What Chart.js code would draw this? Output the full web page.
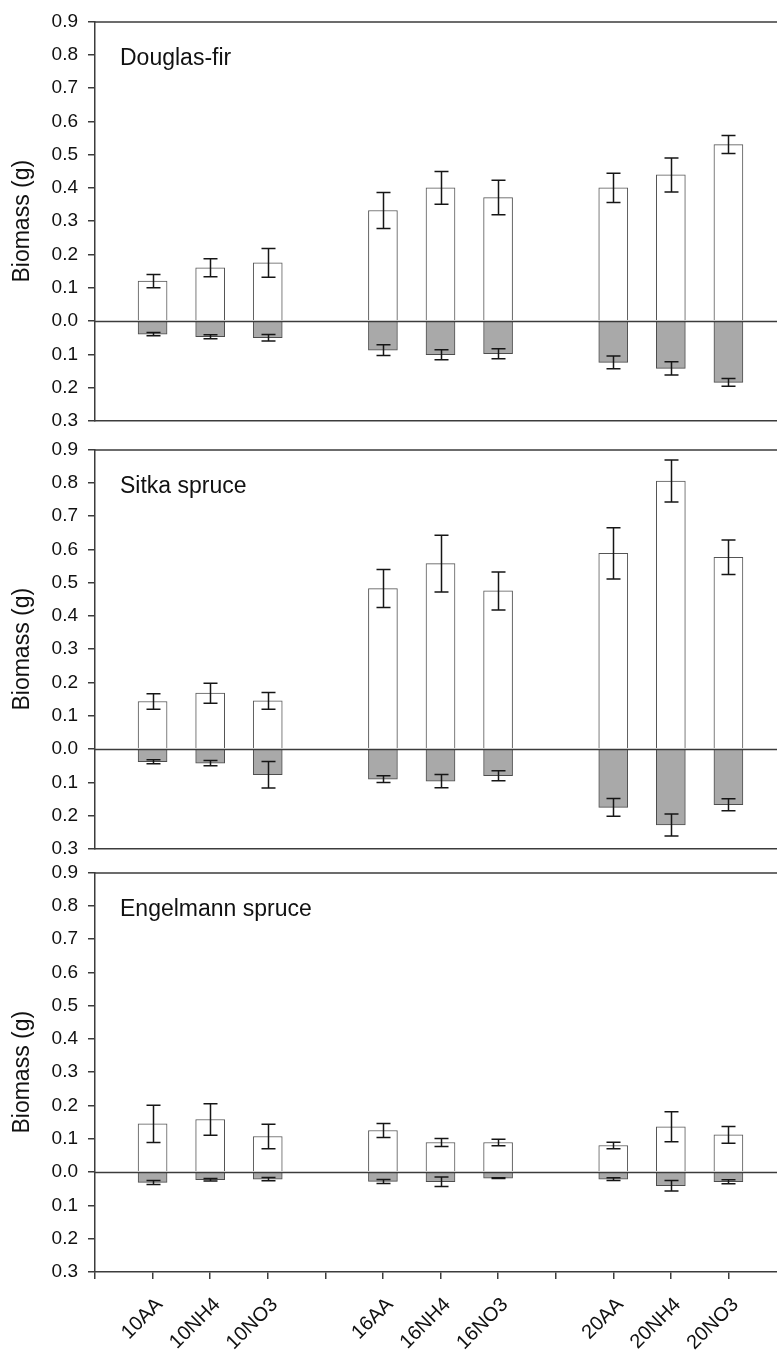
<!DOCTYPE html>
<html>
<head>
<meta charset="utf-8">
<title>Biomass by species and treatment</title>
<script src="https://cdn.jsdelivr.net/npm/chart.js@4.4.0/dist/chart.umd.min.js"></script>
<style>
    html, body { margin: 0; padding: 0; background: #fff; overflow: hidden; }
    #wrap { position: relative; width: 777px; height: 1351px; overflow: hidden; }
    #wrap canvas { position: absolute; left: 0; }
</style>
</head>
<body>
<div id="wrap">
    <canvas id="df" width="800" height="445" style="top:0px"></canvas>
    <canvas id="ss" width="800" height="445" style="top:428px"></canvas>
    <canvas id="es" width="800" height="500" style="top:851px"></canvas>
</div>
<script>
// treatments, three groups of three with an empty slot between groups
var categories = ['10AA', '10NH4', '10NO3', '16AA', '16NH4', '16NO3', '20AA', '20NH4', '20NO3'];
var xLabels = ['', '10AA', '10NH4', '10NO3', '', '16AA', '16NH4', '16NO3', '', '20AA', '20NH4', '20NO3', ''];
var yTicks = [-0.3, -0.2, -0.1, 0, 0.1, 0.2, 0.3, 0.4, 0.5, 0.6, 0.7, 0.8, 0.9];

// Douglas-fir (g): shoot above zero, root below zero
var dfShoot    = [0.120, 0.160, 0.175, 0.332, 0.400, 0.371, 0.400, 0.439, 0.530];
var dfShootErr = [0.020, 0.027, 0.043, 0.054, 0.049, 0.052, 0.044, 0.051, 0.027];
var dfRoot     = [0.039, 0.047, 0.050, 0.087, 0.101, 0.098, 0.124, 0.142, 0.184];
var dfRootErr  = [0.005, 0.006, 0.010, 0.016, 0.015, 0.015, 0.019, 0.020, 0.012];

// Sitka spruce
var ssShoot    = [0.143, 0.168, 0.145, 0.482, 0.557, 0.475, 0.588, 0.805, 0.576];
var ssShootErr = [0.023, 0.030, 0.025, 0.057, 0.085, 0.057, 0.077, 0.063, 0.052];
var ssRoot     = [0.038, 0.042, 0.077, 0.090, 0.096, 0.080, 0.175, 0.228, 0.167];
var ssRootErr  = [0.006, 0.008, 0.040, 0.010, 0.020, 0.015, 0.027, 0.033, 0.018];

// Engelmann spruce
var esShoot    = [0.145, 0.158, 0.107, 0.125, 0.089, 0.089, 0.080, 0.136, 0.112];
var esShootErr = [0.056, 0.047, 0.037, 0.021, 0.012, 0.010, 0.010, 0.045, 0.025];
var esRoot     = [0.031, 0.023, 0.021, 0.028, 0.029, 0.018, 0.021, 0.041, 0.029];
var esRootErr  = [0.006, 0.004, 0.005, 0.006, 0.014, 0.001, 0.004, 0.016, 0.006];

var FONT = "'Liberation Sans', Arial, sans-serif";
var AXIS = '#3c3c3c';

function slotOf(i) {
    // 3 bars per group, one spare slot between groups
    return Math.floor(i / 3) * 4 + (i % 3) + 1;
}

function points(values, sign) {
    return values.map(function (v, i) {
        return { x: slotOf(i), y: sign * v };
    });
}

// zero line, error bars, frame and species name
var panelExtras = {
    id: 'panelExtras',
    afterDatasetsDraw: function (chart) {
        var ctx = chart.ctx, area = chart.chartArea, ys = chart.scales.y;
        ctx.save();

        var y0 = Math.round(ys.getPixelForValue(0)) + 0.5;
        ctx.strokeStyle = AXIS;
        ctx.lineWidth = 1.5;
        ctx.beginPath();
        ctx.moveTo(area.left, y0);
        ctx.lineTo(area.right, y0);
        ctx.stroke();

        ctx.strokeStyle = '#161616';
        ctx.lineWidth = 1.5;
        chart.data.datasets.forEach(function (ds, i) {
            var meta = chart.getDatasetMeta(i);
            meta.data.forEach(function (bar, j) {
                var v = ds.data[j].y, e = ds.errors[j];
                var hi = ys.getPixelForValue(v + e), lo = ys.getPixelForValue(v - e);
                var x = Math.round(bar.x) + 0.5;
                ctx.beginPath();
                ctx.moveTo(x, hi); ctx.lineTo(x, lo);
                ctx.moveTo(x - 7, hi); ctx.lineTo(x + 7, hi);
                ctx.moveTo(x - 7, lo); ctx.lineTo(x + 7, lo);
                ctx.stroke();
            });
        });
        ctx.restore();
    },
    afterDraw: function (chart, args, opts) {
        var ctx = chart.ctx, area = chart.chartArea;
        ctx.save();
        ctx.strokeStyle = AXIS;
        ctx.lineWidth = 1.5;
        ctx.beginPath();
        ctx.moveTo(area.left, area.top + 0.5);
        ctx.lineTo(area.right, area.top + 0.5);
        ctx.lineTo(area.right, area.bottom);
        ctx.stroke();

        ctx.fillStyle = '#111';
        ctx.font = '23px ' + FONT;
        ctx.textBaseline = 'middle';
        ctx.textAlign = 'left';
        ctx.fillText(opts.name, area.left + 25, area.top + 37);
        ctx.restore();
    }
};

function makePanel(id, name, shoot, shootErr, root, rootErr, showX) {
    var ctx = document.getElementById(id).getContext('2d');
    // bottom strip: rotated labels on the last panel, bare axis line otherwise
    var xHeight = showX ? 79 : 24;

    return new Chart(ctx, {
        type: 'bar',
        data: {
            datasets: [{
                data: points(shoot, 1),
                errors: shootErr,
                backgroundColor: '#ffffff',
                borderColor: '#555555',
                borderWidth: 1,
                grouped: false,
                barThickness: 29
            }, {
                data: points(root, -1),
                errors: rootErr,
                backgroundColor: '#a9a9a9',
                borderColor: '#4d4d4d',
                borderWidth: 1,
                grouped: false,
                barThickness: 29
            }]
        },
        options: {
            responsive: false,
            animation: false,
            events: [],
            layout: { padding: { top: 20, right: 14, bottom: 0, left: 0 } },
            plugins: {
                legend: { display: false },
                tooltip: { enabled: false },
                panelExtras: { name: name }
            },
            scales: {
                x: {
                    type: 'linear',
                    min: 0,
                    max: xLabels.length - 1,
                    offset: false,
                    grid: {
                        offset: false,
                        drawOnChartArea: false,
                        drawTicks: showX,
                        tickLength: 7,
                        tickColor: AXIS,
                        lineWidth: 1.5
                    },
                    border: { display: true, color: AXIS, width: 1.5 },
                    ticks: {
                        display: showX,
                        stepSize: 1,
                        autoSkip: false,
                        minRotation: 45,
                        maxRotation: 45,
                        padding: 14,
                        labelOffset: 7,
                        color: '#111',
                        font: { family: FONT, size: 20 },
                        callback: function (v) { return xLabels[v] || ''; }
                    },
                    afterFit: function (scale) {
                        scale.height = xHeight;
                        // the end slots carry no label, so no side room is needed
                        scale.paddingLeft = 0;
                        scale.paddingRight = 0;
                    }
                },
                y: {
                    min: yTicks[0],
                    max: yTicks[yTicks.length - 1],
                    grid: {
                        drawOnChartArea: false,
                        tickLength: 7,
                        tickColor: AXIS,
                        lineWidth: 1.5
                    },
                    border: { display: true, color: AXIS, width: 1.5 },
                    afterBuildTicks: function (scale) {
                        scale.ticks = yTicks.map(function (v) { return { value: v }; });
                    },
                    ticks: {
                        padding: 10,
                        color: '#111',
                        font: { family: FONT, size: 19 },
                        callback: function (v) { return Math.abs(v).toFixed(1); }
                    },
                    title: {
                        display: true,
                        text: 'Biomass (g)',
                        color: '#111',
                        font: { family: FONT, size: 23 },
                        padding: { top: 9, bottom: 0 }
                    },
                    afterFit: function (scale) { scale.width = 95; }
                }
            }
        },
        plugins: [panelExtras]
    });
}

makePanel('df', 'Douglas-fir', dfShoot, dfShootErr, dfRoot, dfRootErr, false);
makePanel('ss', 'Sitka spruce', ssShoot, ssShootErr, ssRoot, ssRootErr, false);
makePanel('es', 'Engelmann spruce', esShoot, esShootErr, esRoot, esRootErr, true);
</script>
</body>
</html>
